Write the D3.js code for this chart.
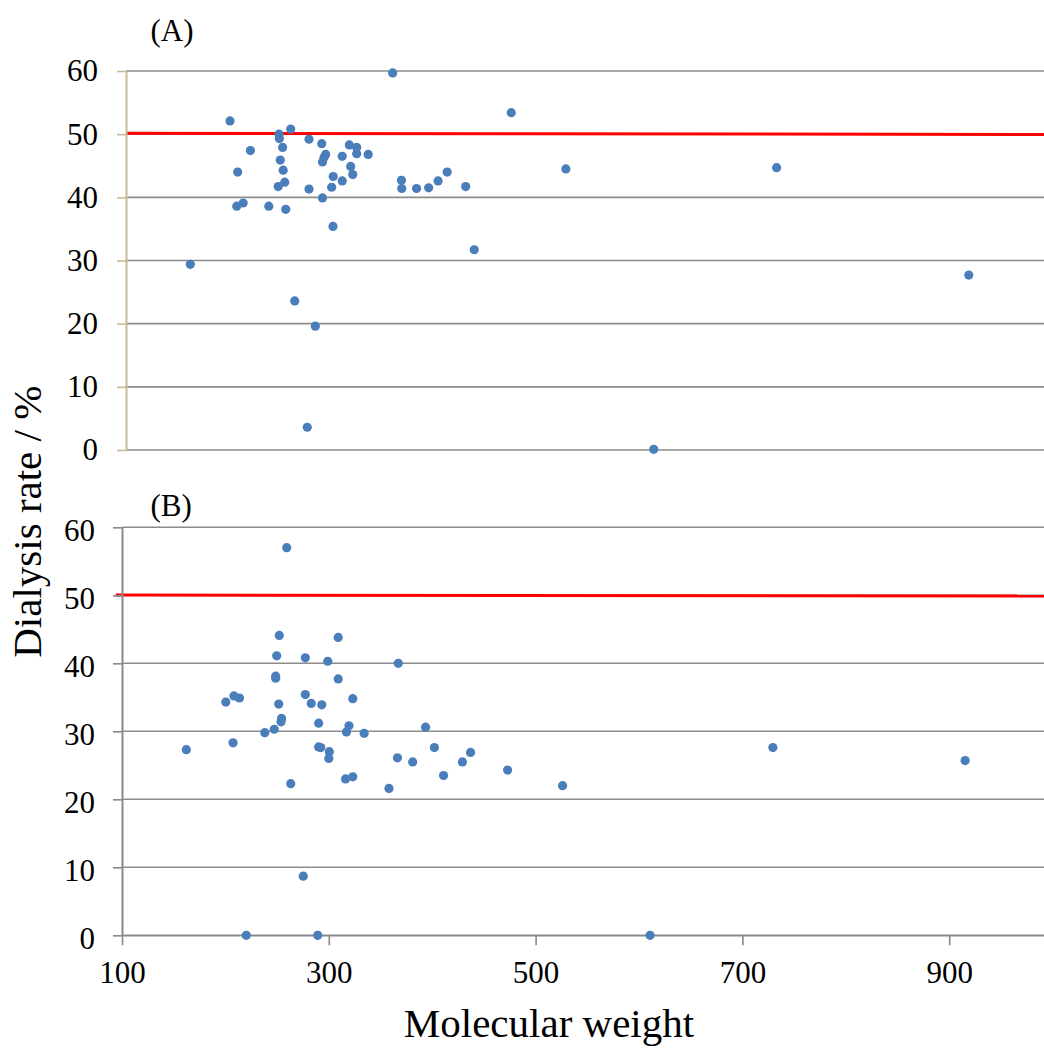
<!DOCTYPE html>
<html>
<head>
<meta charset="utf-8">
<script src="https://cdn.jsdelivr.net/npm/d3@7"></script>
<style>
    html, body { margin: 0; padding: 0; background: #fff; }
    svg text { font-family: "Liberation Serif", "Times New Roman", Times, "DejaVu Serif", serif !important; }
</style>
</head>
<body>
<script>
// molecular weight vs dialysis rate, panel (A) and panel (B)
const mwA = [357.9, 200.6, 259.3, 248.0, 248.3, 277.0, 289.3, 251.5, 316.0, 323.1, 323.1, 334.2, 220.3, 293.1, 291.5, 290.0, 309.1,
    249.2, 252.0, 317.3, 319.3, 300.4, 208.0, 253.5, 247.2, 277.0, 298.9, 309.1, 290.0, 207.1, 213.3, 238.1, 254.5, 300.2,
    366.4, 366.7, 381.0, 392.7, 401.8, 410.6, 428.5, 436.8, 472.6, 525.4, 729.2, 915.1, 610.4, 162.2, 263.2, 283.1, 275.3];
const rateA = [59.7, 52.1, 50.8, 50.0, 49.3, 49.2, 48.5, 47.9, 48.3, 47.9, 46.9, 46.8, 47.4, 46.8, 46.3, 45.6, 46.5,
    45.9, 44.3, 44.9, 43.6, 43.3, 44.0, 42.4, 41.7, 41.3, 41.6, 42.6, 39.9, 38.6, 39.1, 38.6, 38.1, 35.4,
    42.7, 41.4, 41.4, 41.5, 42.6, 44.0, 41.7, 31.7, 53.4, 44.5, 44.7, 27.7, 0.1, 29.4, 23.6, 19.6, 3.6];

const mwB = [259.3, 252.1, 309.1, 249.6, 277.3, 299.0, 367.2, 248.6, 248.6, 309.1, 200.4, 208.3, 213.6, 277.3, 283.0, 293.2, 323.2,
    251.6, 254.3, 253.8, 290.2, 319.5, 317.1, 334.2, 238.1, 247.2, 393.6, 162.2, 207.4, 290.2, 292.2, 300.5, 300.0, 263.2,
    316.2, 323.2, 366.4, 381.1, 402.1, 358.2, 411.0, 275.3, 220.2, 289.3, 429.2, 437.1, 472.9, 526.1, 729.5, 915.4, 610.7];
const rateB = [57.0, 44.1, 43.8, 41.1, 40.8, 40.3, 40.0, 38.1, 37.8, 37.7, 34.3, 35.2, 34.9, 35.4, 34.1, 33.9, 34.8,
    34.0, 31.9, 31.4, 31.2, 30.8, 29.9, 29.7, 29.8, 30.3, 30.6, 27.3, 28.3, 27.7, 27.6, 27.0, 26.0, 22.3,
    23.0, 23.3, 26.1, 25.5, 27.6, 21.6, 23.5, 8.7, 0.0, 0.0, 25.5, 26.9, 24.3, 22.0, 27.6, 25.7, 0.0];

// the red 50 % reference line, [mw, rate] ends
const refA = [[100, 50.15], [1000, 49.95]];
const refB = [[94, 50.05], [1000, 49.88]];

const yTicks = [0, 10, 20, 30, 40, 50, 60];
const xTicks = [100, 300, 500, 700, 900];

const W = 1044, H = 1048;
const pxPerMw = 1.034;
const serif = '"Liberation Serif", "Times New Roman", Times, "DejaVu Serif", serif';

const svg = d3.select('body').append('svg')
    .attr('width', W).attr('height', H)
    .style('display', 'block')
    .attr('font-family', serif);

const panels = [
    { name: '(A)', mw: mwA, rate: rateA, ref: refA, left: 126, top: 71, height: 379,
      axisColor: '#c8bc94', labelPad: 19, labelShift: 0, xAxis: false, labelY: 41 },
    { name: '(B)', mw: mwB, rate: rateB, ref: refB, left: 122, top: 527.3, height: 408,
      axisColor: '#898989', labelPad: 18, labelShift: 3, xAxis: true, labelY: 516 }
];

panels.forEach(p => {
    let x = d3.scaleLinear().domain([100, 1000]).range([0, 900 * pxPerMw]),
        y = d3.scaleLinear().domain([0, 60]).range([p.height, 0]);
    let width = W - p.left;

    let g = svg.append('g').attr('transform', `translate(${p.left}, ${p.top})`);

    g.append('g').selectAll('line').data(yTicks).join('line')
        .attr('x1', 0).attr('x2', width)
        .attr('y1', d => y(d)).attr('y2', d => y(d))
        .attr('stroke', '#8c8c8c').attr('stroke-width', 1.6);

    let line = d3.line().x(d => x(d[0])).y(d => y(d[1]));
    g.append('path').attr('d', line(p.ref))
        .attr('fill', 'none').attr('stroke', '#ff0000').attr('stroke-width', 3);

    let yAxis = d3.axisLeft(y).tickValues(yTicks).tickSize(9).tickSizeOuter(0).tickPadding(p.labelPad);
    let ya = g.append('g').call(yAxis).attr('font-family', serif);
    ya.select('.domain').attr('stroke', p.axisColor).attr('stroke-width', 2);
    ya.selectAll('.tick line').attr('stroke', p.axisColor).attr('stroke-width', 1.6);
    ya.selectAll('.tick text')
        .attr('font-size', 31).attr('fill', '#000')
        .attr('dy', `${0.32 * 31 + p.labelShift}px`);

    if (p.xAxis) {
        let xAxis = d3.axisBottom(x).tickValues(xTicks).tickSize(10).tickSizeOuter(0).tickPadding(16);
        let xa = g.append('g').attr('transform', `translate(0, ${p.height})`).call(xAxis).attr('font-family', serif);
        xa.select('.domain').attr('stroke', '#898989').attr('stroke-width', 1.6);
        xa.selectAll('.tick line').attr('stroke', '#898989').attr('stroke-width', 1.6);
        xa.selectAll('.tick text').attr('font-size', 31).attr('fill', '#000');
    }

    let pts = p.mw.map((m, i) => ({ mw: m, rate: p.rate[i] }));
    g.append('g').selectAll('circle').data(pts).join('circle')
        .attr('cx', d => x(d.mw)).attr('cy', d => y(d.rate))
        .attr('r', 4.6).attr('fill', '#4a7ebb');

    svg.append('text').attr('x', 150.5).attr('y', p.labelY)
        .attr('font-size', 31).attr('fill', '#000').text(p.name);
});

svg.append('text')
    .attr('transform', 'translate(41, 521.7) rotate(-90)')
    .attr('text-anchor', 'middle').attr('font-size', 41).attr('fill', '#000')
    .text('Dialysis rate / %');

svg.append('text')
    .attr('x', 549).attr('y', 1037)
    .attr('text-anchor', 'middle').attr('font-size', 41).attr('fill', '#000')
    .text('Molecular weight');
</script>
</body>
</html>
